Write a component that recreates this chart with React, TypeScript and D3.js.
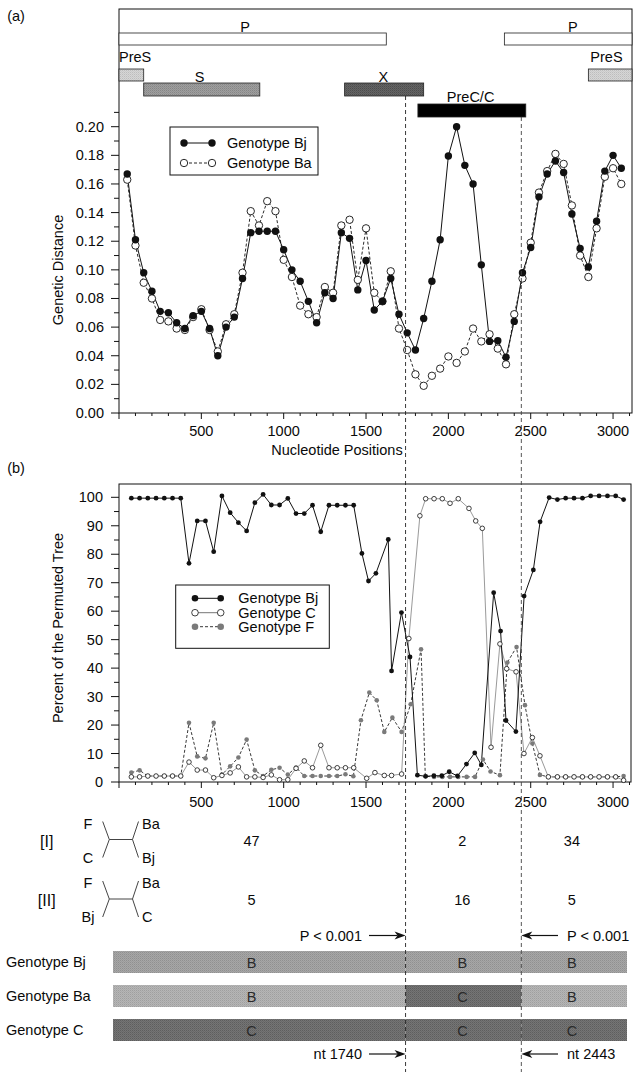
import React from "react";
import * as d3 from "d3";

// ---------- data ----------
// Panel (a): genetic distance (window positions in nt)
const posA = [50,100,150,200,250,300,350,400,450,500,550,600,650,700,750,800,850,900,950,1000,1050,1100,1150,1200,1250,1300,1350,1400,1450,1500,1550,1600,1650,1700,1750,1800,1850,1900,1950,2000,2050,2100,2150,2200,2250,2300,2350,2400,2450,2500,2550,2600,2650,2700,2750,2800,2850,2900,2950,3000,3050];
const distBj = [0.167,0.121,0.098,0.085,0.071,0.070,0.063,0.059,0.068,0.071,0.059,0.040,0.060,0.067,0.094,0.126,0.127,0.127,0.127,0.114,0.100,0.092,0.078,0.063,0.084,0.080,0.126,0.122,0.086,0.1065,0.072,0.078,0.094,0.069,0.056,0.044,0.066,0.092,0.121,0.1795,0.200,0.173,0.160,0.1035,0.050,0.0505,0.039,0.064,0.098,0.1156,0.151,0.167,0.176,0.168,0.139,0.115,0.102,0.134,0.169,0.180,0.171];
const distBa = [0.163,0.117,0.091,0.080,0.065,0.064,0.059,0.058,0.067,0.0725,0.058,0.043,0.062,0.069,0.098,0.141,0.131,0.148,0.141,0.107,0.095,0.075,0.069,0.067,0.088,0.084,0.131,0.135,0.093,0.129,0.084,0.078,0.099,0.059,0.044,0.027,0.019,0.026,0.031,0.0395,0.035,0.043,0.059,0.050,0.055,0.045,0.034,0.069,0.094,0.119,0.154,0.169,0.181,0.174,0.145,0.110,0.095,0.129,0.165,0.171,0.160];

// Panel (b): percent of permuted trees
const bjPos = [75,125,175,225,275,325,375,425,475,525,575,625,675,725,775,825,875,925,975,1025,1075,1125,1175,1225,1275,1325,1375,1425,1475,1515,1560,1635,1655,1715,1767,1812,1862,1912,1960,2005,2055,2110,2160,2200,2275,2317,2350,2410,2460,2516,2557,2612,2662,2712,2763,2814,2864,2915,2966,3016,3064];
const bjVal = [99.7,99.7,99.7,99.7,99.7,99.7,99.7,76.8,91.7,91.7,80.9,100.5,94.6,91.1,88.2,98.1,101,97.3,97.3,99.6,94.3,94.3,97.2,87.9,97.2,97.2,97.2,97.2,80.3,70.6,73.3,85.2,39.0,59.5,43.9,2.4,2.0,2.2,2.2,3.6,2.1,6.3,10.2,6.0,66.5,53.0,21.6,17.7,65.3,74.5,91.4,99.9,99.2,99.7,99.7,99.7,100.5,100.5,100.5,100.5,99.2];
const cPos = [75,125,175,225,275,325,375,425,475,525,575,625,675,725,775,825,875,925,975,1025,1075,1125,1175,1225,1275,1325,1375,1425,1504,1554,1611,1655,1716,1760,1827,1862,1913,1963,2010,2060,2125,2166,2206,2259,2313,2354,2411,2459,2510,2556,2607,2662,2712,2763,2814,2864,2915,2966,3016,3064];
const cVal = [1.8,1.8,2.1,2.1,2.1,2.1,2.1,7.0,4.2,4.2,1.5,2.3,3.2,5.3,1.8,1.8,1.6,2.5,0.8,0.8,4.8,7.4,5.0,12.9,5.0,5.0,5.0,5.0,1.3,3.3,2.3,2.3,2.8,50.4,93.5,99.5,99.5,99.5,97.9,99.5,96.1,91.7,89.1,12.2,48.5,39.8,38.7,10.0,15.6,9.2,1.8,1.8,1.8,1.8,1.8,1.8,1.8,1.8,1.8,0.6];
const fPos = [75,125,175,225,275,325,375,425,475,525,575,625,675,725,775,825,875,925,975,1025,1075,1125,1175,1225,1275,1325,1375,1423,1469,1520,1565,1611,1660,1716,1771,1834,1860,1913,1963,2010,2060,2111,2162,2210,2256,2313,2358,2414,2465,2510,2556,2607,2662,2712,2763,2814,2864,2915,2966,3016,3064];
const fVal = [3.3,4.1,2.1,2.1,2.1,2.1,2.1,20.8,9.0,8.3,20.8,2.6,5.5,8.6,14.9,4.1,2.1,4.3,5.0,2.6,5.1,2.1,2.1,2.1,2.1,2.1,2.7,2.0,21.7,31.4,28.7,17.6,22.6,17.6,27.3,46.6,2.0,1.8,1.8,1.8,1.8,1.8,1.8,7.9,3.7,2.4,42.0,47.4,27.0,13.5,2.5,1.8,1.8,1.8,1.8,1.8,1.8,1.8,1.8,1.8,2.1];

// Gene map (nt)
const geneNames = ["P", "P", "PreS", "S", "X", "PreC/C", "PreS"];
const geneStart = [0, 2340, 0, 150, 1370, 1815, 2850];
const geneEnd = [1623, 3115, 150, 855, 1850, 2470, 3115];
const geneRow = [0, 0, 1, 2, 2, 3, 1];
const geneLabelNt = [765, 2755, 100, 490, 1605, 2135, 2960];

// Breakpoints & topology tests
const breakpoints = [1740, 2443];
const regionCenters = [805, 2085, 2750];
const topoI = ["47", "2", "34"];
const topoII = ["5", "16", "5"];
const genomeRows = ["Genotype Bj", "Genotype Ba", "Genotype C"];
const genomeTypes = [["B", "B", "B"], ["B", "C", "B"], ["C", "C", "C"]];

const FONT = "'Liberation Sans', Arial, Helvetica, sans-serif";

const shades: [string, string, string][] = [
  ["pPreS", "#d6d6d6", "#bdbdbd"],
  ["pS", "#9f9f9f", "#868686"],
  ["pX", "#646464", "#4c4c4c"],
  ["pBj", "#a7a7a7", "#909090"],
  ["pBa", "#b6b6b6", "#9f9f9f"],
  ["pC", "#757575", "#5e5e5e"],
];

export default function App() {
  const x = d3.scaleLinear().domain([0, 3115]).range([119, 632]);
  const ya = d3.scaleLinear().domain([0, 0.2]).range([413, 126.7]);
  const yb = d3.scaleLinear().domain([0, 100]).range([782, 497.3]);

  const lineA = d3.line<[number, number]>().x(d => x(d[0])).y(d => ya(d[1]));
  const lineB = d3.line<[number, number]>().x(d => x(d[0])).y(d => yb(d[1]));

  const bjA = posA.map((p, i) => [p, distBj[i]] as [number, number]);
  const baA = posA.map((p, i) => [p, distBa[i]] as [number, number]);
  const bjB = bjPos.map((p, i) => [p, bjVal[i]] as [number, number]);
  const cB = cPos.map((p, i) => [p, cVal[i]] as [number, number]);
  const fB = fPos.map((p, i) => [p, fVal[i]] as [number, number]);

  const xMinor = d3.range(0, 3101, 100);
  const xLabels = [500, 1000, 1500, 2000, 2500, 3000];
  const yaTicks = d3.range(0, 21.5, 1).map(v => v / 100);
  const ybTicks = d3.range(0, 101, 5);

  const rowY = [33, 69, 83, 104];
  const rowH = [12, 12, 13, 13];
  const geneFill = ["#ffffff", "#ffffff", "url(#pPreS)", "url(#pS)", "url(#pX)", "#000000", "url(#pPreS)"];
  const labelY = [27, 27, 57, 77, 77, 97, 57];

  const barX0 = 113;
  const barX1 = 627;
  const barYs = [951, 985, 1019];
  const segColors = [["url(#pBj)", "url(#pBj)", "url(#pBj)"], ["url(#pBa)", "url(#pC)", "url(#pBa)"], ["url(#pC)", "url(#pC)", "url(#pC)"]];
  const segEdges = [barX0, x(breakpoints[0]), x(breakpoints[1]), barX1];

  const txt = { fontFamily: FONT, fontSize: 14.5, fill: "#0a0a0a" } as const;

  const Tree = ({ y, tl, bl, tr, br }: { y: number; tl: string; bl: string; tr: string; br: string }) => (
    <g>
      <line x1={102.7} y1={y - 18} x2={109.3} y2={y} stroke="#444" strokeWidth={1} />
      <line x1={102.7} y1={y + 18} x2={109.3} y2={y} stroke="#444" strokeWidth={1} />
      <line x1={109.3} y1={y} x2={132.5} y2={y} stroke="#444" strokeWidth={1} />
      <line x1={132.5} y1={y} x2={138.5} y2={y - 18} stroke="#444" strokeWidth={1} />
      <line x1={132.5} y1={y} x2={138.5} y2={y + 18} stroke="#444" strokeWidth={1} />
      <text x={88} y={y - 16} textAnchor="middle" dominantBaseline="central" {...txt}>{tl}</text>
      <text x={88} y={y + 18} textAnchor="middle" dominantBaseline="central" {...txt}>{bl}</text>
      <text x={142} y={y - 16} dominantBaseline="central" {...txt}>{tr}</text>
      <text x={142} y={y + 18} dominantBaseline="central" {...txt}>{br}</text>
    </g>
  );

  const Arrow = ({ x1, x2, y }: { x1: number; x2: number; y: number }) => {
    const dir = x2 > x1 ? 1 : -1;
    return (
      <g>
        <line x1={x1} y1={y} x2={x2 - dir * 8} y2={y} stroke="#111" strokeWidth={1.2} />
        <polygon points={`${x2},${y} ${x2 - dir * 11},${y - 4} ${x2 - dir * 8},${y} ${x2 - dir * 11},${y + 4}`} fill="#111" />
      </g>
    );
  };

  return (
    <svg width={640} height={1072} style={{ position: "absolute", left: 0, top: 0, background: "#fff" }} fontFamily={FONT}>
      <defs>
        {shades.map(([id, a, b]) => (
          <pattern key={id} id={id} width={2} height={2} patternUnits="userSpaceOnUse">
            <rect width={2} height={2} fill={a} />
            <rect width={1} height={1} fill={b} />
            <rect x={1} y={1} width={1} height={1} fill={b} opacity={0.5} />
          </pattern>
        ))}
      </defs>
      <rect x={0} y={0} width={640} height={1072} fill="#fff" />

      {/* ----- panel (a) ----- */}
      <text x={16} y={16} textAnchor="middle" dominantBaseline="central" {...txt}>(a)</text>
      <rect x={119} y={9} width={513} height={404} fill="none" stroke="#111" strokeWidth={1} />

      {geneNames.map((g, i) => (
        <g key={"g" + i}>
          <rect x={x(geneStart[i])} y={rowY[geneRow[i]]} width={x(geneEnd[i]) - x(geneStart[i])} height={rowH[geneRow[i]]}
            fill={geneFill[i]} stroke="#222" strokeWidth={0.8} />
          <text x={g === "PreS" && i === 2 ? 119 : x(geneLabelNt[i])} y={labelY[i]} textAnchor={g === "PreS" && i === 2 ? "start" : "middle"}
            dominantBaseline="central" {...txt}>{g}</text>
        </g>
      ))}

      {/* y axis ticks (a) */}
      {yaTicks.map((t, i) => (
        <line key={"ya" + i} x1={i % 2 === 0 ? 111 : 114} x2={119} y1={ya(t)} y2={ya(t)} stroke="#111" strokeWidth={1} />
      ))}
      {yaTicks.filter((_, i) => i % 2 === 0 && i <= 20).map((t, i) => (
        <text key={"yal" + i} x={104} y={ya(t)} textAnchor="end" dominantBaseline="central" {...txt}>{d3.format(".2f")(t)}</text>
      ))}
      {xMinor.map((t, i) => (
        <line key={"xa" + i} x1={x(t)} x2={x(t)} y1={413} y2={t % 500 === 0 ? 419 : 416} stroke="#111" strokeWidth={1} />
      ))}
      {xLabels.map(t => (
        <text key={"xal" + t} x={x(t)} y={436} textAnchor="middle" {...txt}>{t}</text>
      ))}
      <text x={337} y={455} textAnchor="middle" {...txt}>Nucleotide Positions</text>
      <text transform="translate(58,270) rotate(-90)" textAnchor="middle" dominantBaseline="central" {...txt}>Genetic Distance</text>

      <path d={lineA(baA) || ""} fill="none" stroke="#111" strokeWidth={0.9} strokeDasharray="3,2" />
      <path d={lineA(bjA) || ""} fill="none" stroke="#111" strokeWidth={1} />
      {baA.map((d, i) => <circle key={"ba" + i} cx={x(d[0])} cy={ya(d[1])} r={3.7} fill="#fff" stroke="#111" strokeWidth={0.9} />)}
      {bjA.map((d, i) => <circle key={"bj" + i} cx={x(d[0])} cy={ya(d[1])} r={3.7} fill="#111" />)}

      {/* legend (a) */}
      <rect x={170} y={127} width={148} height={48} fill="#fff" stroke="#111" strokeWidth={1} />
      <line x1={184} x2={212} y1={143} y2={143} stroke="#111" strokeWidth={1} />
      <circle cx={184} cy={143} r={3.7} fill="#111" />
      <circle cx={212} cy={143} r={3.7} fill="#111" />
      <text x={227} y={143} dominantBaseline="central" {...txt}>Genotype Bj</text>
      <line x1={184} x2={212} y1={163} y2={163} stroke="#111" strokeWidth={0.9} strokeDasharray="3,2" />
      <circle cx={184} cy={163} r={3.7} fill="#fff" stroke="#111" strokeWidth={0.9} />
      <circle cx={212} cy={163} r={3.7} fill="#fff" stroke="#111" strokeWidth={0.9} />
      <text x={227} y={163} dominantBaseline="central" {...txt}>Genotype Ba</text>

      {/* ----- panel (b) ----- */}
      <text x={16} y={468} textAnchor="middle" dominantBaseline="central" {...txt}>(b)</text>
      <rect x={119} y={484} width={512} height={298} fill="none" stroke="#111" strokeWidth={1} />
      {ybTicks.map((t, i) => (
        <line key={"yb" + i} x1={i % 2 === 0 ? 111 : 114} x2={119} y1={yb(t)} y2={yb(t)} stroke="#111" strokeWidth={1} />
      ))}
      {ybTicks.filter((_, i) => i % 2 === 0).map(t => (
        <text key={"ybl" + t} x={103} y={yb(t)} textAnchor="end" dominantBaseline="central" {...txt}>{t}</text>
      ))}
      {xMinor.map((t, i) => (
        <line key={"xb" + i} x1={x(t)} x2={x(t)} y1={782} y2={t % 500 === 0 ? 788 : 785} stroke="#111" strokeWidth={1} />
      ))}
      {xLabels.map(t => (
        <text key={"xbl" + t} x={x(t)} y={807} textAnchor="middle" {...txt}>{t}</text>
      ))}
      <text transform="translate(58,628) rotate(-90)" textAnchor="middle" dominantBaseline="central" {...txt}>Percent of the Permuted Tree</text>

      <path d={lineB(fB) || ""} fill="none" stroke="#222" strokeWidth={0.9} strokeDasharray="3,2" />
      <path d={lineB(cB) || ""} fill="none" stroke="#9a9a9a" strokeWidth={1} />
      <path d={lineB(bjB) || ""} fill="none" stroke="#111" strokeWidth={1} />
      {fB.map((d, i) => <circle key={"fb" + i} cx={x(d[0])} cy={yb(d[1])} r={2.3} fill="#7a7a7a" />)}
      {cB.map((d, i) => <circle key={"cb" + i} cx={x(d[0])} cy={yb(d[1])} r={2.3} fill="#fff" stroke="#111" strokeWidth={0.8} />)}
      {bjB.map((d, i) => <circle key={"bjb" + i} cx={x(d[0])} cy={yb(d[1])} r={2.4} fill="#111" />)}

      {/* legend (b) */}
      <rect x={175.7} y={585} width={153.6} height={63.3} fill="#fff" stroke="#111" strokeWidth={1} />
      <line x1={195} x2={220.7} y1={598.3} y2={598.3} stroke="#111" strokeWidth={1} />
      <circle cx={195} cy={598.3} r={3.3} fill="#111" />
      <circle cx={220.7} cy={598.3} r={3.3} fill="#111" />
      <text x={238.3} y={598.3} dominantBaseline="central" {...txt}>Genotype Bj</text>
      <line x1={195} x2={220.7} y1={612.7} y2={612.7} stroke="#777" strokeWidth={1} />
      <circle cx={195} cy={612.7} r={3.3} fill="#fff" stroke="#111" strokeWidth={0.8} />
      <circle cx={220.7} cy={612.7} r={3.3} fill="#fff" stroke="#111" strokeWidth={0.8} />
      <text x={238.3} y={612.7} dominantBaseline="central" {...txt}>Genotype C</text>
      <line x1={195} x2={220.7} y1={626.7} y2={626.7} stroke="#222" strokeWidth={0.9} strokeDasharray="3,2" />
      <circle cx={195} cy={626.7} r={3.3} fill="#7a7a7a" />
      <circle cx={220.7} cy={626.7} r={3.3} fill="#7a7a7a" />
      <text x={238.3} y={626.7} dominantBaseline="central" {...txt}>Genotype F</text>

      {/* ----- bottom schematic ----- */}
      <text x={46.7} y={841} textAnchor="middle" dominantBaseline="central" {...txt} fontSize={16}>[I]</text>
      <Tree y={839.5} tl="F" bl="C" tr="Ba" br="Bj" />
      <text x={46.7} y={900} textAnchor="middle" dominantBaseline="central" {...txt} fontSize={16}>[II]</text>
      <Tree y={899} tl="F" bl="Bj" tr="Ba" br="C" />
      {regionCenters.map((c, i) => (
        <g key={"rc" + i}>
          <text x={x(c)} y={841} textAnchor="middle" dominantBaseline="central" {...txt}>{topoI[i]}</text>
          <text x={x(c)} y={900} textAnchor="middle" dominantBaseline="central" {...txt}>{topoII[i]}</text>
        </g>
      ))}

      <text x={362} y={935.5} textAnchor="end" dominantBaseline="central" {...txt}>P &lt; 0.001</text>
      <Arrow x1={369} x2={x(breakpoints[0])} y={935.5} />
      <Arrow x1={558} x2={x(breakpoints[1])} y={935.5} />
      <text x={567} y={935.5} dominantBaseline="central" {...txt}>P &lt; 0.001</text>

      {genomeRows.map((g, r) => (
        <g key={"gr" + r}>
          <text x={6} y={barYs[r] + 11} dominantBaseline="central" {...txt}>{g}</text>
          {genomeTypes[r].map((t, s) => (
            <g key={"seg" + s}>
              <rect x={segEdges[s]} y={barYs[r]} width={segEdges[s + 1] - segEdges[s]} height={22} fill={segColors[r][s]} />
              <text x={x(regionCenters[s])} y={barYs[r] + 12} textAnchor="middle" dominantBaseline="central" {...txt} fill="#2a2a2a">{t}</text>
            </g>
          ))}
        </g>
      ))}

      <text x={362} y={1054} textAnchor="end" dominantBaseline="central" {...txt}>nt {breakpoints[0]}</text>
      <Arrow x1={369} x2={x(breakpoints[0])} y={1054} />
      <Arrow x1={558} x2={x(breakpoints[1])} y={1054} />
      <text x={567} y={1054} dominantBaseline="central" {...txt}>nt {breakpoints[1]}</text>

      {/* breakpoint dashed lines */}
      <line x1={x(breakpoints[0])} x2={x(breakpoints[0])} y1={96} y2={1072} stroke="#222" strokeWidth={0.9} strokeDasharray="4,3" />
      <line x1={x(breakpoints[1])} x2={x(breakpoints[1])} y1={117} y2={1072} stroke="#444" strokeWidth={0.9} strokeDasharray="4,3" />
    </svg>
  );
}
